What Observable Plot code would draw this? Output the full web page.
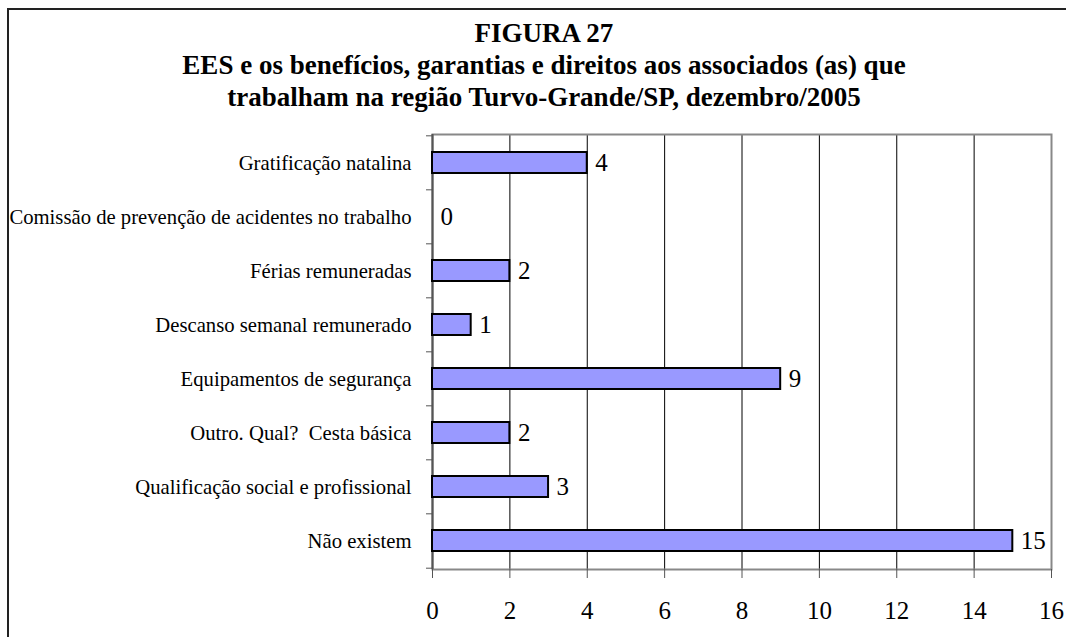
<!DOCTYPE html>
<html>
<head>
<meta charset="utf-8">
<script src="https://cdn.jsdelivr.net/npm/d3@7"></script>
<script src="https://cdn.jsdelivr.net/npm/@observablehq/plot@0.6"></script>
<style>
  html, body { margin: 0; padding: 0; background: #fff; overflow: hidden; }
  #wrap { position: relative; width: 1066px; height: 637px; overflow: hidden; }
  #btop { position: absolute; left: 7px; top: 8px; width: 1059px; height: 2px; background: #222; }
  #bleft { position: absolute; left: 7px; top: 8px; width: 2px; height: 629px; background: #222; }
  #chart { position: absolute; left: 0; top: 0; }
  #title { position: absolute; left: 19px; top: 17px; width: 1050px; text-align: center;
           font-family: "Liberation Serif", "Times New Roman", serif; font-weight: bold;
           font-size: 27px; line-height: 32px; color: #000; }
</style>
</head>
<body>
<div id="wrap">
  <div id="btop"></div>
  <div id="bleft"></div>
  <div id="chart"></div>
  <div id="title">FIGURA 27<br>EES e os benefícios, garantias e direitos aos associados (as) que<br>trabalham na região Turvo-Grande/SP, dezembro/2005</div>
</div>
<script>
const categories = [
  "Gratificação natalina",
  "Comissão de prevenção de acidentes no trabalho",
  "Férias remuneradas",
  "Descanso semanal remunerado",
  "Equipamentos de segurança",
  "Outro. Qual?  Cesta básica",
  "Qualificação social e profissional",
  "Não existem"
];
const values = [4, 0, 2, 1, 9, 2, 3, 15];
const xTicks = [0, 2, 4, 6, 8, 10, 12, 14, 16];

const data = categories.map((c, i) => ({category: c, value: values[i]}));

const W = 1066, H = 637;
const mTop = 134, mBottom = 68, mLeft = 432, mRight = 15;
const step = (H - mTop - mBottom) / categories.length;

const chart = Plot.plot({
  width: W,
  height: H,
  marginTop: mTop,
  marginBottom: mBottom,
  marginLeft: mLeft,
  marginRight: mRight,
  style: {fontFamily: "'Liberation Serif', 'Times New Roman', serif", background: "transparent", color: "#000"},
  x: {domain: [0, 16], label: null},
  y: {domain: categories, paddingInner: 0.62, paddingOuter: 0.31, label: null},
  marks: [
    Plot.gridX(xTicks, {stroke: "#000", strokeOpacity: 1, strokeWidth: 1}),
    Plot.frame({stroke: "#888", strokeWidth: 2}),
    Plot.ruleX([0], {stroke: "#555", strokeWidth: 2}),
    Plot.barX(data, {x: "value", y: "category", fill: "#9999FF", stroke: "#000", strokeWidth: 2}),
    Plot.text(data, {x: "value", y: "category", text: d => String(d.value), textAnchor: "start", dx: 8, fontSize: 25, fill: "#000"}),
    Plot.axisX({ticks: xTicks, tickSize: 9, tickPadding: 23, fontSize: 25, stroke: "#555", label: null, tickFormat: d => String(d)}),
    Plot.axisY({tickSize: 0, tickPadding: 21, fontSize: 20.7, label: null}),
    Plot.axisY({tickSize: 6, dy: -step / 2, tickFormat: () => "", label: null, stroke: "#555"}),
    Plot.axisY({ticks: [categories[categories.length - 1]], tickSize: 6, dy: step / 2, tickFormat: () => "", label: null, stroke: "#555"})
  ]
});
document.getElementById("chart").appendChild(chart);
</script>
</body>
</html>
